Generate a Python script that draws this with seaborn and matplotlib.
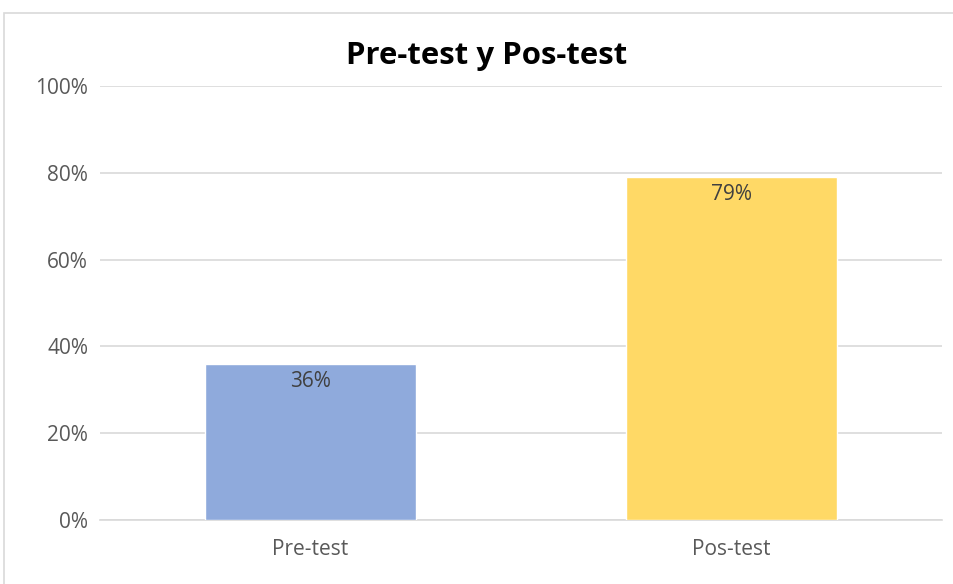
import matplotlib
matplotlib.use("Agg")
import matplotlib.pyplot as plt
import seaborn as sns
import pandas as pd
from matplotlib.patches import Rectangle
from matplotlib.ticker import FuncFormatter

categories = ["Pre-test", "Pos-test"]
values = [0.36, 0.79]
colors = ["#8FAADC", "#FFD966"]
yticks = [0, 0.2, 0.4, 0.6, 0.8, 1.0]
title = "Pre-test y Pos-test"

sns.set_theme(style="white")
plt.rcParams['font.family'] = ['Open Sans', 'DejaVu Sans']

df = pd.DataFrame({"cat": categories, "val": values})

fig = plt.figure(figsize=(9.54, 5.84), dpi=100)
ax = fig.add_axes([100/954, 1-520/584, 842/954, (520-86)/584])

sns.barplot(data=df, x="cat", y="val", hue="cat", palette=colors, width=0.5,
            legend=False, ax=ax, zorder=3, saturation=1)

ax.set_ylim(0, 1)
ax.set_xlim(-0.5, 1.5)
ax.set_yticks(yticks)
ax.yaxis.set_major_formatter(FuncFormatter(lambda v, p: f"{v*100:.0f}%"))
ax.grid(axis="y", color="#d9d9d9", linewidth=1.2, zorder=0)
for s in ["top", "right", "left"]:
    ax.spines[s].set_visible(False)
ax.spines["bottom"].set_color("#d9d9d9")
ax.spines["bottom"].set_linewidth(1.2)
ax.tick_params(axis="both", length=0, labelsize=15, labelcolor="#595959")
ax.tick_params(axis="y", pad=8.5)
ax.tick_params(axis="x", pad=14)
ax.set_xlabel("")
ax.set_ylabel("")

for i, v in enumerate(values):
    ax.annotate(f"{v*100:.0f}%", xy=(i, v), xytext=(0, -12.5),
                textcoords="offset points", ha="center", va="center",
                fontsize=15, color="#404040", zorder=4)

fig.text(487/954, 1-56/584, title, ha="center", va="center",
         fontsize=22.4, fontweight="bold", color="black")

fig.patches.append(Rectangle((4/954, -0.01), 1.0, 1-13/584+0.01,
                             transform=fig.transFigure, fill=False,
                             edgecolor="#d9d9d9", linewidth=1.2))

fig.savefig("out.png", dpi=100)
